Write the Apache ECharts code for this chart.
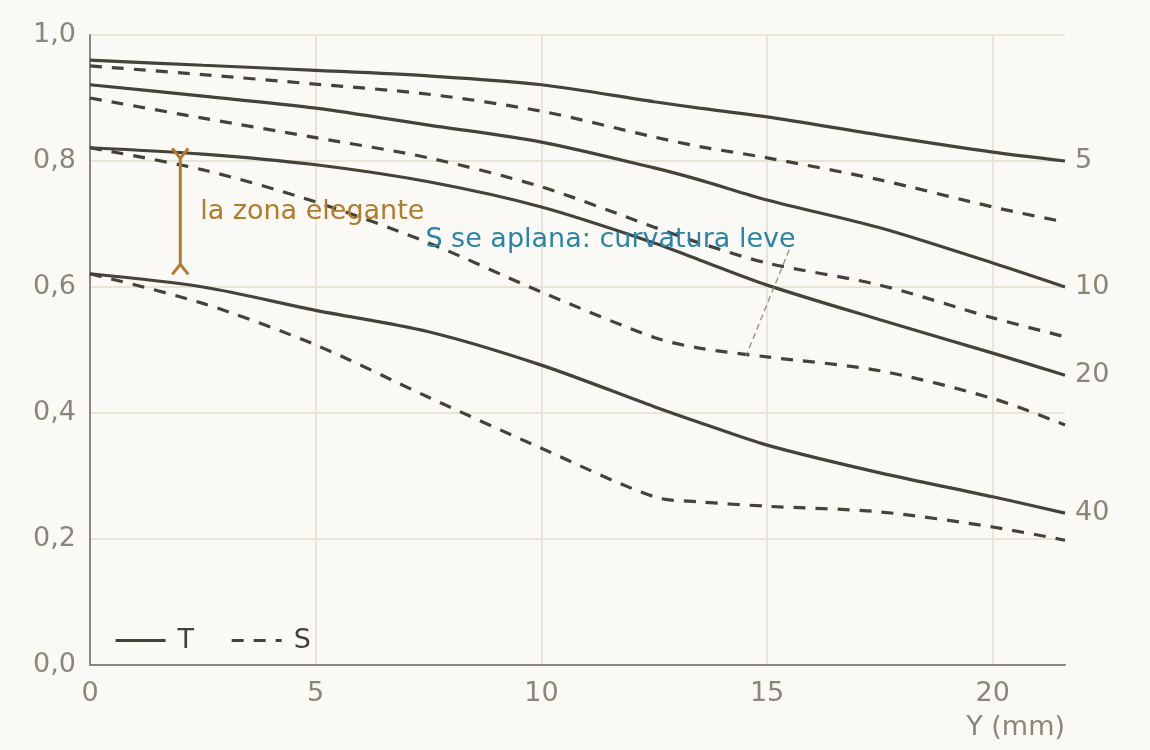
<!DOCTYPE html>
<html>
<head>
<meta charset="utf-8">
<script src="https://cdn.jsdelivr.net/npm/echarts@6/dist/echarts.min.js"></script>
<style>
html,body{margin:0;padding:0;background:#faf9f5;}
#c{width:1150px;height:750px;}
</style>
</head>
<body>
<div id="c"></div>
<script>
// Image height Y (mm)
const xs = [0, 2.5, 5, 7.5, 10, 12.5, 13.5, 15, 17.5, 20, 21.6];
// Tangential (T) and sagittal (S) MTF for 5, 10, 20, 40 lp/mm
const t5  = [0.960, 0.952, 0.944, 0.935, 0.921, 0.894, 0.884, 0.870, 0.841, 0.814, 0.800];
const s5  = [0.951, 0.937, 0.922, 0.906, 0.879, 0.838, 0.823, 0.805, 0.770, 0.727, 0.703];
const t10 = [0.921, 0.903, 0.884, 0.857, 0.830, 0.789, 0.770, 0.738, 0.694, 0.638, 0.600];
const s10 = [0.900, 0.868, 0.837, 0.805, 0.759, 0.695, 0.670, 0.638, 0.603, 0.551, 0.521];
const t20 = [0.821, 0.811, 0.794, 0.767, 0.727, 0.670, 0.643, 0.603, 0.548, 0.495, 0.460];
const s20 = [0.821, 0.786, 0.735, 0.670, 0.592, 0.520, 0.503, 0.489, 0.467, 0.423, 0.381];
const t40 = [0.621, 0.600, 0.563, 0.529, 0.476, 0.410, 0.385, 0.349, 0.305, 0.267, 0.241];
const s40 = [0.621, 0.574, 0.508, 0.425, 0.344, 0.267, 0.259, 0.252, 0.243, 0.219, 0.198];
const freqLabels = ['5', '10', '20', '40'];
const legendNames = ['T', 'S'];
// annotations (data coordinates)
const bracketSpan = [2, 0.82, 0.62];
const bracketText = 'la zona elegante';
const bracketTextAt = [2.44, 0.719];
const noteText = 'S se aplana: curvatura leve';
const noteTextAt = [7.43, 0.675];
const noteLeader = [[15.49, 0.659], [14.53, 0.490]];

const INK = '#45423a', MUTED = '#8a8778', GRID = '#e8e4d8', BRASS = '#b27b2c', BLUE = '#2b84a8';
const FONT = 'DejaVu Sans';
const FS = 27;

const pairs = ys => xs.map((x, i) => [x, ys[i]]);
const tSets = [t5, t10, t20, t40];
const sSets = [s5, s10, s20, s40];

const series = [];
tSets.forEach((d, i) => {
  series.push({
    name: 'T', type: 'line', data: pairs(d), symbol: 'none', smooth: 0.3,
    lineStyle: { color: INK, width: 3.2, type: 'solid' }, itemStyle: { color: INK },
    endLabel: { show: true, formatter: freqLabels[i], color: MUTED, fontSize: FS, fontFamily: FONT, distance: 10, padding: [3, 0, 0, 0] },
    z: 3
  });
});
sSets.forEach((d) => {
  series.push({
    name: 'S', type: 'line', data: pairs(d), symbol: 'none', smooth: 0.3,
    lineStyle: { color: INK, width: 3.2, type: [12, 10] }, itemStyle: { color: INK },
    z: 3
  });
});
series.push({
  name: 'annot', type: 'custom', silent: true, z: 5,
  data: [[bracketSpan[0], bracketSpan[1]]],
  renderItem: (params, api) => {
    const top = api.coord([bracketSpan[0], bracketSpan[1]]);
    const bot = api.coord([bracketSpan[0], bracketSpan[2]]);
    const a = 8, h = 10;
    const bs = { stroke: BRASS, lineWidth: 3, fill: 'none' };
    const tp = api.coord(bracketTextAt);
    const np = api.coord(noteTextAt);
    const l1 = api.coord(noteLeader[0]), l2 = api.coord(noteLeader[1]);
    return {
      type: 'group',
      children: [
        { type: 'polyline', shape: { points: [[top[0] - a, top[1]], [top[0], top[1] + h], [top[0] + a, top[1]]] }, style: bs },
        { type: 'line', shape: { x1: top[0], y1: top[1] + h, x2: bot[0], y2: bot[1] - h }, style: bs },
        { type: 'polyline', shape: { points: [[bot[0] - a, bot[1]], [bot[0], bot[1] - h], [bot[0] + a, bot[1]]] }, style: bs },
        { type: 'text', style: { text: bracketText, x: tp[0], y: tp[1], fill: BRASS, font: FS + 'px "' + FONT + '"', align: 'left', verticalAlign: 'middle' } },
        { type: 'line', shape: { x1: l1[0], y1: l1[1], x2: l2[0], y2: l2[1] }, style: { stroke: MUTED, lineWidth: 1.2, lineDash: [6, 4] } },
        { type: 'text', style: { text: noteText, x: np[0], y: np[1], fill: BLUE, font: FS + 'px "' + FONT + '"', align: 'left', verticalAlign: 'middle' } }
      ]
    };
  }
});

const chart = echarts.init(document.getElementById('c'), null, { renderer: 'canvas' });
chart.setOption({
  animation: false,
  backgroundColor: '#faf9f5',
  textStyle: { fontFamily: FONT },
  grid: { left: 90, right: 85, top: 35, bottom: 85, containLabel: false },
  legend: {
    data: legendNames, left: 114, top: 627, padding: 0, itemWidth: 50, itemHeight: 14, itemGap: 36,
    itemStyle: { opacity: 0 },
    lineStyle: { width: 3.2 },
    textStyle: { color: INK, fontSize: FS, fontFamily: FONT, padding: [0, 0, 0, 7] },
    selectedMode: false
  },
  xAxis: {
    type: 'value', min: 0, max: 21.6, interval: 5,
    name: 'Y (mm)', nameLocation: 'end', nameGap: 0,
    nameTextStyle: { color: MUTED, fontSize: FS, fontFamily: FONT, align: 'right', verticalAlign: 'top', padding: [49, 0, 0, 0] },
    axisLine: { show: true, lineStyle: { color: MUTED, width: 2 } },
    axisTick: { show: false },
    axisLabel: { color: MUTED, fontSize: FS, fontFamily: FONT, margin: 15, showMaxLabel: false },
    splitLine: { show: true, showMaxLine: false, lineStyle: { color: GRID, width: 2 } }
  },
  yAxis: {
    type: 'value', min: 0, max: 1, interval: 0.2,
    axisLine: { show: true, lineStyle: { color: MUTED, width: 2 } },
    axisTick: { show: false },
    axisLabel: { color: MUTED, fontSize: FS, fontFamily: FONT, margin: 14, padding: [4, 0, 0, 0], formatter: v => v.toFixed(1).replace('.', ',') },
    splitLine: { show: true, lineStyle: { color: GRID, width: 2 } }
  },
  series: series
});
</script>
</body>
</html>
